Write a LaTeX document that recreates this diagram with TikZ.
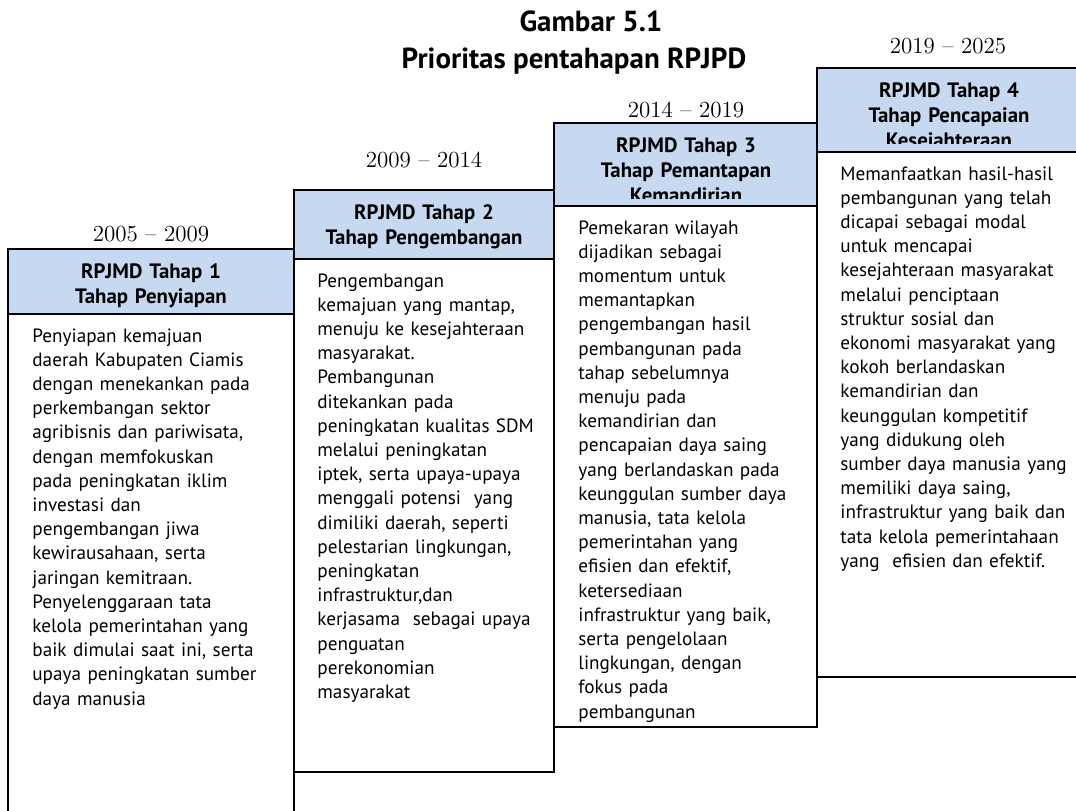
\documentclass[tikz,border=0pt]{standalone}
\usepackage{fontspec}
\setsansfont{PT Sans}
\definecolor{birumuda}{HTML}{C6D9F1}
\tikzset{
  kepala/.style={draw,fill=birumuda,line width=0.9pt,inner sep=0pt,outer sep=0pt,anchor=north west},
  isi/.style={draw,fill=white,line width=0.9pt,inner sep=0pt,outer sep=0pt,anchor=north west},
  namatahap/.style={anchor=base,inner sep=0pt,align=center,font=\sffamily\bfseries\fontsize{10.4}{12.5}\selectfont},
  uraian/.style={anchor=base west,inner sep=0pt,text width=160pt,align=left,font=\sffamily\fontsize{9.6}{12.1}\selectfont},
  tahun/.style={anchor=base,inner sep=0pt,font=\fontsize{11.5}{14}\selectfont},
  judul/.style={anchor=base,inner sep=0pt,font=\sffamily\bfseries\fontsize{14.5}{17}\selectfont}
}
\begin{document}
\begin{tikzpicture}[x=0.5pt,y=-0.5pt]
\useasboundingbox (0,0) rectangle (1076,810);
% judul gambar
\node[judul] (judul1) at (591,31) {Gambar 5.1};
\node[judul] (judul2) at (574,68) {Prioritas pentahapan RPJPD};
% tahap 1
\node[tahun] (tahun1) at (151,241) {2005 -- 2009};
\node[kepala,minimum width=143pt,minimum height=32.5pt] (kepala1) at (8,249) {};
\node[namatahap,text width=143pt] (nama1) at (151,278) {RPJMD Tahap 1\\Tahap Penyiapan};
\node[isi,minimum width=143pt,minimum height=251pt] (isi1) at (8,314) {};
\node[uraian] (teks1) at (32,342) {Penyiapan kemajuan\\daerah Kabupaten Ciamis\\dengan menekankan pada\\perkembangan sektor\\agribisnis dan pariwisata,\\dengan memfokuskan\\pada peningkatan iklim\\investasi dan\\pengembangan jiwa\\kewirausahaan, serta\\jaringan kemitraan.\\Penyelenggaraan tata\\kelola pemerintahan yang\\baik dimulai saat ini, serta\\upaya peningkatan sumber\\daya manusia};
% tahap 2
\node[tahun] (tahun2) at (424,167) {2009 -- 2014};
\node[kepala,minimum width=130pt,minimum height=34.5pt] (kepala2) at (294,190) {};
\node[namatahap,text width=130pt] (nama2) at (424,219) {RPJMD Tahap 2\\Tahap Pengembangan};
\node[isi,minimum width=130pt,minimum height=256.5pt] (isi2) at (294,259) {};
\node[uraian] (teks2) at (317,287) {Pengembangan\\kemajuan yang mantap,\\menuju ke kesejahteraan\\masyarakat.\\Pembangunan\\ditekankan pada\\peningkatan kualitas SDM\\melalui peningkatan\\iptek, serta upaya-upaya\\menggali potensi\ \ yang\\dimiliki daerah, seperti\\pelestarian lingkungan,\\peningkatan\\infrastruktur,dan\\kerjasama\ \ sebagai upaya\\penguatan\\perekonomian\\masyarakat};
% tahap 3
\node[tahun] (tahun3) at (686,117) {2014 -- 2019};
\node[kepala,minimum width=131.5pt,minimum height=41.5pt] (kepala3) at (554,123) {};
\begin{scope}
\clip (554,123) rectangle (817,198);
\node[namatahap,text width=131.5pt] (nama3) at (686,152) {RPJMD Tahap 3\\Tahap Pemantapan\\Kemandirian};
\end{scope}
\node[isi,minimum width=131.5pt,minimum height=260.5pt] (isi3) at (554,206) {};
\node[uraian] (teks3) at (578,234) {Pemekaran wilayah\\dijadikan sebagai\\momentum untuk\\memantapkan\\pengembangan hasil\\pembangunan pada\\tahap sebelumnya\\menuju pada\\kemandirian dan\\pencapaian daya saing\\yang berlandaskan pada\\keunggulan sumber daya\\manusia, tata kelola\\pemerintahan yang\\efisien dan efektif,\\ketersediaan\\infrastruktur yang baik,\\serta pengelolaan\\lingkungan, dengan\\fokus pada\\pembangunan};
% tahap 4
\node[tahun] (tahun4) at (948,53) {2019 -- 2025};
\node[kepala,minimum width=132pt,minimum height=42pt] (kepala4) at (817,68) {};
\begin{scope}
\clip (817,68) rectangle (1081,143);
\node[namatahap,text width=132pt] (nama4) at (949,97) {RPJMD Tahap 4\\Tahap Pencapaian\\Kesejahteraan};
\end{scope}
\node[isi,minimum width=132pt,minimum height=262.5pt] (isi4) at (817,152) {};
\node[uraian] (teks4) at (840,180) {Memanfaatkan hasil-hasil\\pembangunan yang telah\\dicapai sebagai modal\\untuk mencapai\\kesejahteraan masyarakat\\melalui penciptaan\\struktur sosial dan\\ekonomi masyarakat yang\\kokoh berlandaskan\\kemandirian dan\\keunggulan kompetitif\\yang didukung oleh\\sumber daya manusia yang\\memiliki daya saing,\\infrastruktur yang baik dan\\tata kelola pemerintahaan\\yang\ \ efisien dan efektif.};
\end{tikzpicture}
\end{document}
